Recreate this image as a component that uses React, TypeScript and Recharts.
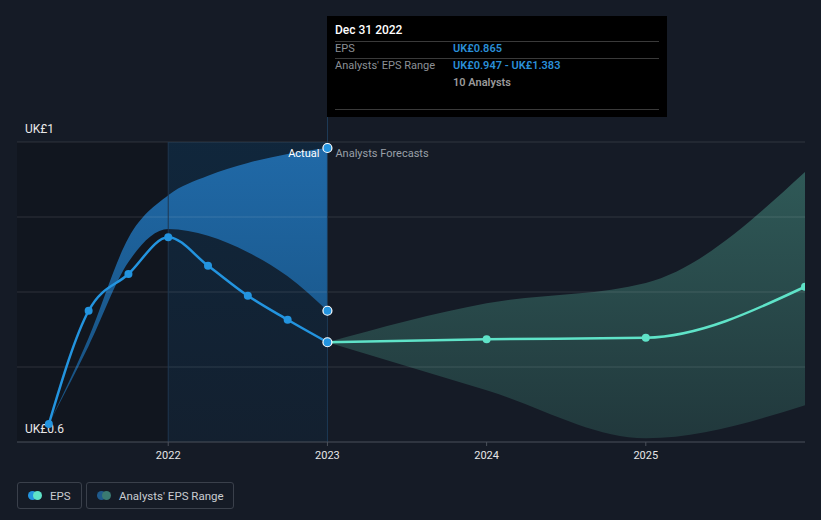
import React from 'react';
import { ComposedChart, Area, Line, XAxis, YAxis, ReferenceArea, ReferenceLine } from 'recharts';

// Quarterly actuals up to 2023, then yearly analyst forecasts
const years = [2021.25, 2021.5, 2021.75, 2022, 2022.25, 2022.5, 2022.75, 2023, 2024, 2025, 2026];
const epsActual = [0.624, 0.775, 0.824, 0.873, 0.835, 0.795, 0.763, 0.733, null, null, null];
const epsForecast = [null, null, null, null, null, null, null, 0.733, 0.737, 0.739, 0.807];
const pastRangeLow = [0.624, 0.728, 0.84, 0.884, 0.875, 0.853, 0.821, 0.775, null, null, null];
const pastRangeHigh = [0.624, 0.739, 0.872, 0.929, 0.955, 0.972, 0.984, 0.992, null, null, null];
const forecastRangeLow = [null, null, null, null, null, null, null, 0.733, 0.669, 0.605, 0.649];
const forecastRangeHigh = [null, null, null, null, null, null, null, 0.733, 0.785, 0.812, 0.96];

const xTicks = [2022, 2023, 2024, 2025];
const gridValues = [0.7, 0.8, 0.9, 1.0];
const yLabelTop = 'UK£1';
const yLabelBottom = 'UK£0.6';

const data = years.map((x, i) => ({
  x,
  eps: epsActual[i],
  epsF: epsForecast[i],
  pastLow: pastRangeLow[i],
  pastHigh: pastRangeHigh[i],
  rangeP: pastRangeLow[i] == null ? null : [pastRangeLow[i], pastRangeHigh[i]],
  rangeF: forecastRangeLow[i] == null ? null : [forecastRangeLow[i], forecastRangeHigh[i]],
}));

const BLUE = '#2394df';
const MINT = '#5fe3c8';
const BG = '#151b26';
const FONT = 'Roboto, "Noto Sans", sans-serif';

const actualDot = (props: any) => {
  const { cx, cy, payload, index } = props;
  if (cx == null || cy == null) return <g key={`a-${index}`} />;
  if (payload.x === 2023) {
    return <circle key={`a-${index}`} cx={cx} cy={cy} r={4.5} fill={BLUE} stroke="#ffffff" strokeWidth={1.2} />;
  }
  return <circle key={`a-${index}`} cx={cx} cy={cy} r={4} fill={BLUE} />;
};

const edgeDot = (props: any) => {
  const { cx, cy, payload, index } = props;
  if (cx == null || cy == null || payload.x !== 2023) return <g key={`e-${index}`} />;
  return <circle key={`e-${index}`} cx={cx} cy={cy} r={4.5} fill={BLUE} stroke="#ffffff" strokeWidth={1.2} />;
};

const forecastDot = (props: any) => {
  const { cx, cy, payload, index } = props;
  if (cx == null || cy == null || payload.x === 2023) return <g key={`f-${index}`} />;
  return <circle key={`f-${index}`} cx={cx} cy={cy} r={4} fill={MINT} />;
};

const DividerLabel = (props: any) => {
  const { viewBox } = props;
  const x = viewBox.x;
  const y = viewBox.y + 12;
  return (
    <g fontFamily={FONT} fontSize={11}>
      <text x={x - 8} y={y} textAnchor="end" dominantBaseline="middle" fill="#ffffff">Actual</text>
      <text x={x + 8} y={y} textAnchor="start" dominantBaseline="middle" fill="#9aa0a8">Analysts Forecasts</text>
    </g>
  );
};

const AxisLabel = ({ viewBox, text }: any) => (
  <text x={viewBox.x + 8} y={viewBox.y - 12} fill="#e8e8e8" fontSize={12} dominantBaseline="middle" fontFamily={FONT}>
    {text}
  </text>
);

const legendBox: React.CSSProperties = {
  position: 'absolute',
  top: 482,
  height: 27,
  boxSizing: 'border-box',
  border: '1px solid #3a404b',
  borderRadius: 3,
  display: 'flex',
  alignItems: 'center',
  color: '#c9ccd1',
  fontSize: 11.5,
  fontFamily: FONT,
  whiteSpace: 'nowrap',
};

const Dots = ({ a, b }: { a: string; b: string }) => (
  <span style={{ position: 'relative', width: 14, height: 9, display: 'inline-block', marginLeft: 10, marginRight: 8, flex: 'none' }}>
    <span style={{ position: 'absolute', left: 0, top: 0, width: 9, height: 9, borderRadius: 5, background: a }} />
    <span style={{ position: 'absolute', left: 5, top: 0, width: 9, height: 9, borderRadius: 5, background: b }} />
  </span>
);

const rowLabel: React.CSSProperties = { position: 'absolute', left: 8, color: '#8c9096', fontSize: 11 };
const rowValue: React.CSSProperties = { position: 'absolute', left: 126, color: '#2a8fd8', fontSize: 11, fontWeight: 600 };
const divider: React.CSSProperties = { position: 'absolute', left: 8, right: 8, height: 1, background: '#3a3a3a' };

export default function App() {
  return (
    <div style={{ position: 'absolute', left: 0, top: 0, width: 821, height: 520, background: BG, overflow: 'hidden' }}>
      <ComposedChart width={821} height={520} data={data} margin={{ top: 142, right: 16, left: 17, bottom: 48 }}>
        <defs>
          <linearGradient id="pastBand" x1="0" y1="0" x2="0" y2="1">
            <stop offset="0%" stopColor="#2069a7" />
            <stop offset="100%" stopColor="#17507f" />
          </linearGradient>
          <linearGradient id="foreBand" x1="0" y1="0" x2="0" y2="1">
            <stop offset="0%" stopColor="#2f5957" />
            <stop offset="100%" stopColor="#21383c" />
          </linearGradient>
          <linearGradient id="highlight" x1="0" y1="0" x2="0" y2="1">
            <stop offset="0%" stopColor="rgb(5,65,110)" stopOpacity={0.3} />
            <stop offset="100%" stopColor="rgb(5,65,110)" stopOpacity={0.13} />
          </linearGradient>
        </defs>
        <ReferenceArea x1={2021.05} x2={2022} y1={0.6} y2={1} fill="#000000" fillOpacity={0.16} stroke="none" ifOverflow="hidden" />
        <ReferenceArea x1={2022} x2={2023} y1={0.6} y2={1} fill="url(#highlight)" fillOpacity={1} stroke="none" ifOverflow="hidden" />
        <XAxis
          dataKey="x"
          type="number"
          domain={[2021.05, 2026]}
          ticks={xTicks}
          allowDataOverflow
          height={30}
          stroke="#4b505a"
          tickSize={4}
          tickMargin={5}
          tick={{ fill: '#e6e6e6', fontSize: 11, fontFamily: FONT }}
        />
        <YAxis type="number" domain={[0.6, 1]} hide allowDataOverflow />
        <Area type="monotone" dataKey="rangeP" stroke="none" fill="url(#pastBand)" fillOpacity={1} isAnimationActive={false} />
        <Area type="monotone" dataKey="rangeF" stroke="none" fill="url(#foreBand)" fillOpacity={1} isAnimationActive={false} />
        {gridValues.map((v) => (
          <ReferenceLine key={v} y={v} stroke="#ffffff" strokeOpacity={0.12} />
        ))}
        <ReferenceLine y={1} stroke="none" label={<AxisLabel text={yLabelTop} />} />
        <ReferenceLine y={0.6} stroke="none" label={<AxisLabel text={yLabelBottom} />} />
        <ReferenceLine x={2022} stroke="#1f3650" />
        <ReferenceLine x={2023} stroke="#1d3a56" label={<DividerLabel />} />
        <Line type="monotone" dataKey="eps" stroke={BLUE} strokeWidth={2.5} dot={actualDot} activeDot={false} isAnimationActive={false} />
        <Line type="monotone" dataKey="epsF" stroke={MINT} strokeWidth={2.5} dot={forecastDot} activeDot={false} isAnimationActive={false} />
        <Line dataKey="pastHigh" stroke="none" dot={edgeDot} activeDot={false} isAnimationActive={false} />
        <Line dataKey="pastLow" stroke="none" dot={edgeDot} activeDot={false} isAnimationActive={false} />
      </ComposedChart>

      {/* cursor line above the plot, up to the tooltip */}
      <div style={{ position: 'absolute', left: 327, top: 117, width: 1, height: 25, background: '#1d3a56' }} />

      {/* static tooltip */}
      <div style={{ position: 'absolute', left: 327, top: 16, width: 340, height: 101, background: '#000000', fontFamily: FONT }}>
        <div style={{ position: 'absolute', left: 8, top: 7, color: '#ffffff', fontSize: 12, fontWeight: 500 }}>Dec 31 2022</div>
        <div style={{ ...divider, top: 25 }} />
        <div style={{ ...rowLabel, top: 26 }}>EPS</div>
        <div style={{ ...rowValue, top: 26 }}>UK£0.865</div>
        <div style={{ ...divider, top: 42 }} />
        <div style={{ ...rowLabel, top: 43 }}>Analysts' EPS Range</div>
        <div style={{ ...rowValue, top: 43 }}>UK£0.947 - UK£1.383</div>
        <div style={{ position: 'absolute', left: 126, top: 60, color: '#9a9a9a', fontSize: 11, fontWeight: 600 }}>10 Analysts</div>
        <div style={{ ...divider, top: 93 }} />
      </div>

      {/* legend */}
      <div style={{ ...legendBox, left: 17, width: 65 }}>
        <Dots a={BLUE} b={MINT} />
        <span>EPS</span>
      </div>
      <div style={{ ...legendBox, left: 86, width: 148 }}>
        <Dots a="#1f5a8c" b="#3a7a72" />
        <span>Analysts' EPS Range</span>
      </div>
    </div>
  );
}
